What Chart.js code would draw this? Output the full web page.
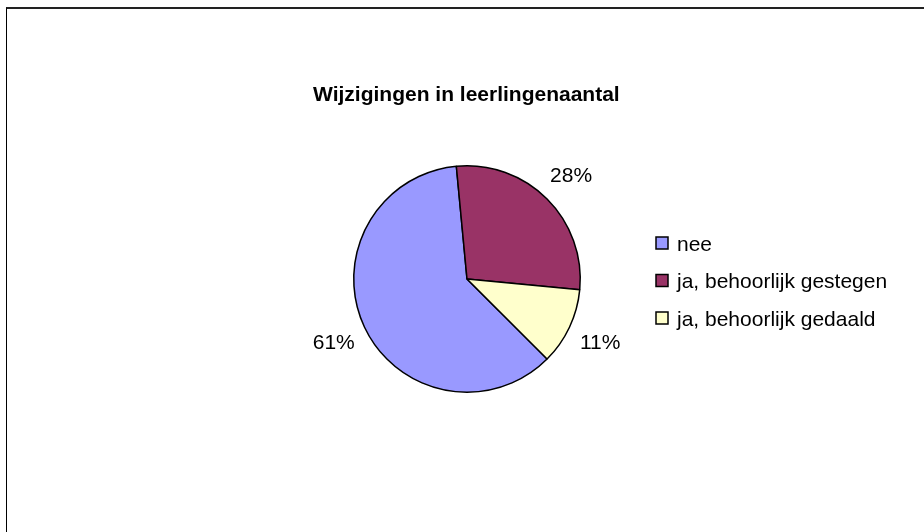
<!DOCTYPE html>
<html>
<head>
<meta charset="utf-8">
<script src="https://cdn.jsdelivr.net/npm/chart.js@4"></script>
<style>
  html, body { margin: 0; padding: 0; background: #fff; overflow: hidden; }
  #wrap { position: absolute; left: 0; top: 0; width: 924px; height: 532px; }
  #frame { position: absolute; left: 6px; top: 7px; width: 940px; height: 560px;
           border-left: 1px solid #000; border-top: 2px solid #222; }
  canvas { position: absolute; left: 0; top: 0; }
</style>
</head>
<body>
<div id="wrap">
  <div id="frame"></div>
  <canvas id="grafico" width="924" height="532"></canvas>
</div>
<script>
const titel = 'Wijzigingen in leerlingenaantal';
const categorieen = ['nee', 'ja, behoorlijk gestegen', 'ja, behoorlijk gedaald'];
const waarden = [61, 28, 11];
const kleuren = ['#9999ff', '#993366', '#ffffcc'];

const lettertype = '"Liberation Sans", Arial, sans-serif';

// titel, percentages en legenda zelf tekenen
const tekstPlugin = {
  id: 'tekst',
  afterDraw(chart) {
    const c = chart.ctx;
    c.save();
    c.fillStyle = '#000';
    c.textBaseline = 'alphabetic';

    c.font = 'bold 21px ' + lettertype;
    c.textAlign = 'left';
    c.fillText(titel, 313, 101);

    const totaal = waarden.reduce((a, b) => a + b, 0);
    c.font = '21px ' + lettertype;
    c.textAlign = 'center';
    chart.getDatasetMeta(0).data.forEach((arc, i) => {
      const hoek = (arc.startAngle + arc.endAngle) / 2;
      const r = arc.outerRadius + 34;
      const x = arc.x + Math.cos(hoek) * r;
      const y = arc.y + Math.sin(hoek) * r;
      c.fillText(Math.round(waarden[i] / totaal * 100) + '%', x, y + 7.5);
    });

    c.textAlign = 'left';
    categorieen.forEach((naam, i) => {
      const y = 243 + i * 37.5;
      c.fillStyle = kleuren[i];
      c.fillRect(656, y - 6, 12, 12);
      c.strokeStyle = '#000';
      c.lineWidth = 1.5;
      c.strokeRect(656, y - 6, 12, 12);
      c.fillStyle = '#000';
      c.fillText(naam, 677, y + 7.5);
    });
    c.restore();
  }
};

new Chart(document.getElementById('grafico'), {
  type: 'pie',
  data: {
    labels: categorieen,
    datasets: [{
      data: waarden,
      backgroundColor: kleuren,
      borderColor: '#000',
      borderWidth: 1.5,
      borderAlign: 'center'
    }]
  },
  options: {
    responsive: false,
    animation: false,
    rotation: 135,
    layout: { padding: { left: 353, right: 343, top: 165, bottom: 139 } },
    plugins: {
      legend: { display: false },
      title: { display: false },
      tooltip: { enabled: false }
    }
  },
  plugins: [tekstPlugin]
});
</script>
</body>
</html>
